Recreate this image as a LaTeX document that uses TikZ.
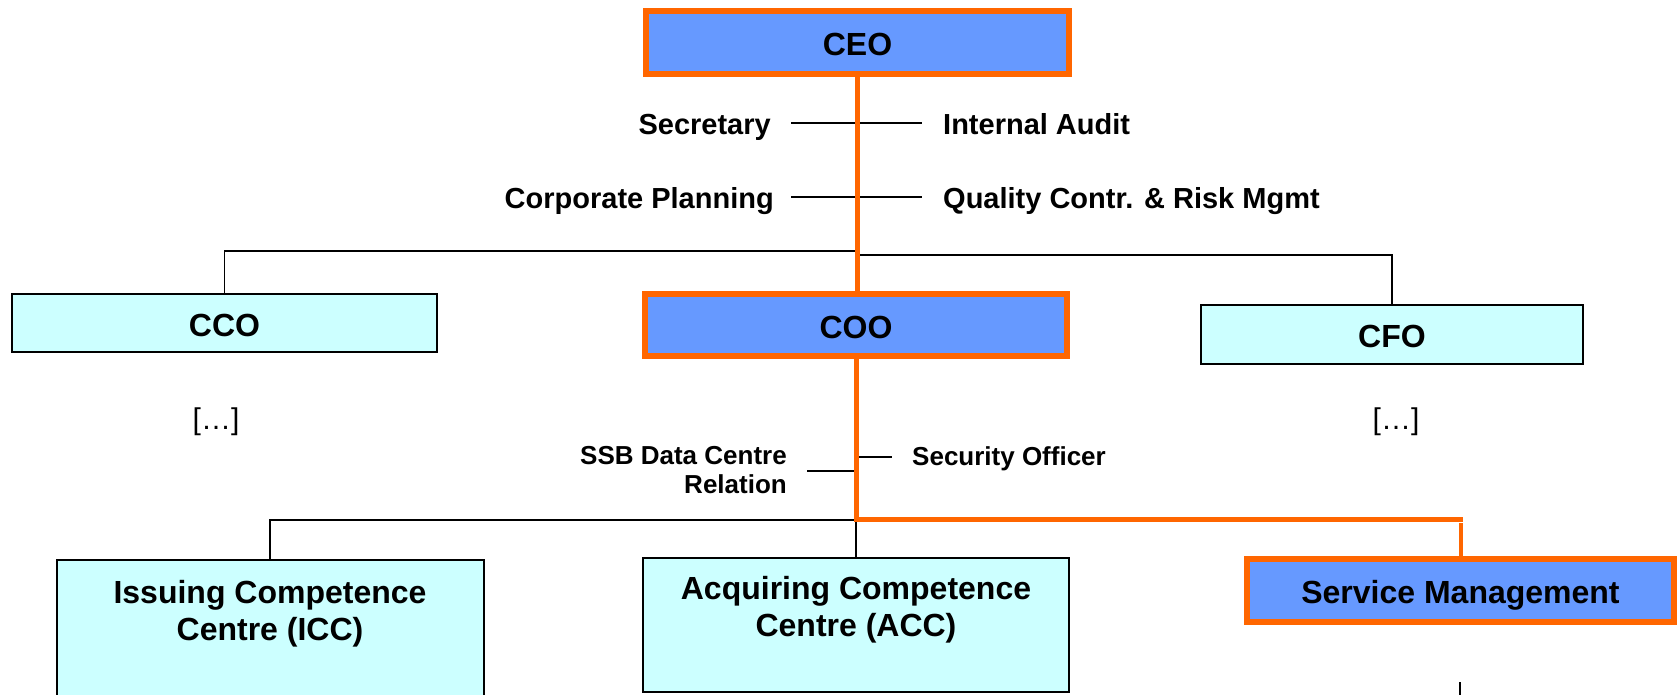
\documentclass[tikz,border=0pt]{standalone}
\usepackage{fontspec}
\setmainfont{Liberation Sans}
\definecolor{hiblue}{HTML}{6699FF}
\definecolor{palecyan}{HTML}{CCFFFF}
\definecolor{hiorange}{HTML}{FF6600}
\tikzset{
  box/.style={draw=black, line width=2pt, fill=palecyan, inner sep=0pt,
    font=\fontsize{32}{37}\selectfont\bfseries, text height=26pt, text depth=0pt},
  keybox/.style={box, draw=hiorange, line width=6pt, fill=hiblue},
  boxtext/.style={inner sep=0pt, align=center, font=\fontsize{32}{37}\selectfont\bfseries},
  lbl/.style={inner sep=0pt, font=\fontsize{29}{33}\selectfont\bfseries},
  sublbl/.style={inner sep=0pt, font=\fontsize{26}{29}\selectfont\bfseries},
  more/.style={inner sep=0pt, font=\fontsize{30}{34}\selectfont},
  conn/.style={draw=black, line width=1.5pt},
  hot/.style={draw=hiorange, line width=5pt},
}
\begin{document}
\begin{tikzpicture}[x=1pt, y=-1pt]
\useasboundingbox (0,0) rectangle (1677,694);
\clip (0,0) rectangle (1677,694);

% boxes
\node[keybox, minimum width=423pt, minimum height=63pt] (CEO) at (857.5,42.5) {CEO};
\node[keybox, minimum width=422pt, minimum height=62pt] (COO) at (856,325) {COO};
\node[box, minimum width=425pt, minimum height=58pt] (CCO) at (224.5,323) {CCO};
\node[box, minimum width=382pt, minimum height=59pt] (CFO) at (1392,334.5) {CFO};
\node[box, minimum width=427pt, minimum height=200pt] (ICC) at (270,660) {};
\node[box, minimum width=426pt, minimum height=134pt] (ACC) at (856,625) {};
\node[keybox, minimum width=427pt, minimum height=63pt] (SM) at (1460.5,590.5) {Service Management};
\node[boxtext, anchor=north] (ICCtext) at (270,580.5) {Issuing Competence\\Centre (ICC)};
\node[boxtext, anchor=north] (ACCtext) at (856,576.5) {Acquiring Competence\\Centre (ACC)};

% staff functions
\node[lbl, anchor=base east] (secr) at (771,134) {Secretary};
\node[lbl, anchor=base west] (audit) at (943,134) {Internal Audit};
\node[lbl, anchor=base east] (plan) at (774,208) {Corporate Planning};
\node[lbl, anchor=base west] (qual) at (943,208) {Quality Contr. \& Risk Mgmt};
\node[sublbl, anchor=north east, align=right] (ssb) at (787,446) {SSB Data Centre\\Relation};
\node[sublbl, anchor=base west] (secoff) at (912,465) {Security Officer};
\node[more] (moreL) at (216,422) {[…]};
\node[more] (moreR) at (1396,422) {[…]};

% connector ends and junctions
\coordinate (jL) at (857.5,251);
\coordinate (jR) at (857.5,255);
\coordinate (jB) at (856,520);
\coordinate (secrEnd) at (791,123);
\coordinate (auditEnd) at (922,123);
\coordinate (planEnd) at (791,197);
\coordinate (qualEnd) at (922,197);
\coordinate (ssbEnd) at (807,471);
\coordinate (ssbSpine) at (857,471);
\coordinate (secSpine) at (857,457);
\coordinate (secEnd) at (892,457);
\coordinate (stubTop) at (1460,682);
\coordinate (stubBot) at (1460,700);
\coordinate (oTurn) at (1463,519);
\coordinate (oDrop) at (1460.5,523);

% reporting lines
\draw[conn] (CCO.north) |- (jL);
\draw[conn] (CFO.north) |- (jR);
\draw[conn] (secrEnd) -- (auditEnd);
\draw[conn] (planEnd) -- (qualEnd);
\draw[conn] (ssbEnd) -- (ssbSpine);
\draw[conn] (secSpine) -- (secEnd);
\draw[conn] (ICC.north) |- (jB);
\draw[conn] (ACC.north) -- (jB);
\draw[conn] (stubTop) -- (stubBot);

% highlighted chain
\draw[hot] (CEO.south) -- (CEO.south |- COO.north);
\draw[hot] (COO.south) |- (oTurn);
\draw[hot, line width=4pt] (oDrop) -- (SM.north);
\end{tikzpicture}
\end{document}
